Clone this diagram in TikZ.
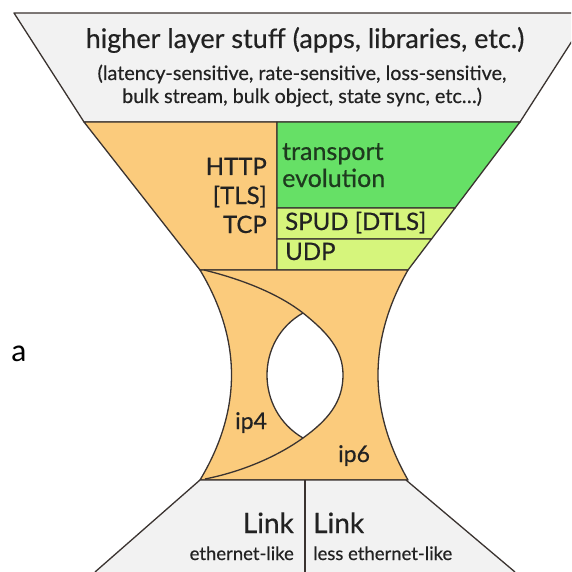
\documentclass[tikz,border=0pt]{standalone}
\usepackage{fontspec}
\setmainfont{Lato}[FakeBold=0.5]
\newfontfamily\afont{Carlito}
\definecolor{bandgray}{HTML}{F2F2F2}
\definecolor{orng}{HTML}{FBCB7C}
\definecolor{grn}{HTML}{66E066}
\definecolor{lgrn}{HTML}{D6F57C}
\definecolor{edge}{HTML}{3A3330}
\definecolor{txt}{HTML}{222222}
\definecolor{gtxt}{HTML}{1E3A1E}
\tikzset{
  outl/.style={draw=edge, line width=1.3pt, line join=round},
  lbl/.style={inner sep=0pt, text=txt},
}
\begin{document}
\begin{tikzpicture}[x=1pt,y=-1pt]
\useasboundingbox (0,0) rectangle (571,572);
\clip (0,0) rectangle (571,572);
\fill[white] (0,0) rectangle (571,572);
% top band
\filldraw[outl, fill=bandgray] (14,13) -- (590,13) -- (520,122) -- (84,122) -- cycle;
% middle band
\filldraw[outl, fill=orng] (84,122) -- (277,122) -- (277,270) -- (200,270) -- cycle;
\filldraw[outl, fill=grn] (277,122) -- (520,122) -- (455,208) -- (277,208) -- cycle;
\filldraw[outl, fill=lgrn] (277,208) -- (455,208) -- (431.5,239) -- (277,239) -- cycle;
\filldraw[outl, fill=lgrn] (277,239) -- (431.5,239) -- (408,270) -- (277,270) -- cycle;
% hourglass waist
\filldraw[outl, fill=orng] (200,270) -- (408,270) .. controls (368,340) and (368,410) .. (408,480)
  -- (200,480) .. controls (242,410) and (242,340) .. (200,270) -- cycle;
% lens
\fill[white] (303,313) .. controls (328,333) and (343,350) .. (343,375)
  .. controls (343,402) and (328,420) .. (303,438)
  .. controls (255,410) and (255,340) .. (303,313) -- cycle;
\draw[outl] (204,270) .. controls (245,280) and (280,295) .. (303,313)
  .. controls (328,333) and (343,350) .. (343,375)
  .. controls (343,402) and (328,420) .. (303,438)
  .. controls (275,458) and (240,472) .. (205,479);
\draw[outl] (303,313) .. controls (255,340) and (255,410) .. (303,438);
% bottom band
\fill[bandgray] (200,480) -- (406,480) -- (515,572) -- (95,572) -- cycle;
\draw[outl] (95,572) -- (200,480) -- (406,480) -- (515,572);
\draw[outl] (305,480) -- (305,572);
% texts
\node[lbl, anchor=base, font=\fontsize{27}{27}\selectfont] (title) at (305,48) {higher layer stuff (apps, libraries, etc.)};
\node[lbl, anchor=base, font=\fontsize{19.8}{20}\selectfont] (sub1) at (302,80) {(latency-sensitive, rate-sensitive, loss-sensitive,};
\node[lbl, anchor=base, font=\fontsize{19.8}{20}\selectfont] (sub2) at (302,103) {bulk stream, bulk object, state sync, etc\ldots)};
\node[lbl, anchor=base east, font=\fontsize{24}{24}\selectfont] (http) at (267,175) {HTTP};
\node[lbl, anchor=base east, font=\fontsize{24}{24}\selectfont] (tls) at (267,204) {[TLS]};
\node[lbl, anchor=base east, font=\fontsize{24}{24}\selectfont] (tcp) at (267,233) {TCP};
\node[lbl, text=gtxt, anchor=base west, font=\fontsize{25}{25}\selectfont] (tr) at (282,160) {transport};
\node[lbl, text=gtxt, anchor=base west, font=\fontsize{25}{25}\selectfont] (ev) at (282,187) {evolution};
\node[lbl, anchor=base west, font=\fontsize{24}{24}\selectfont] (spud) at (285,230) {SPUD [DTLS]};
\node[lbl, anchor=base west, font=\fontsize{24}{24}\selectfont] (udp) at (285,260) {UDP};
\node[lbl, anchor=base west, font=\fontsize{23}{23}\selectfont] (ip4) at (235,429) {ip4};
\node[lbl, anchor=base west, font=\fontsize{23}{23}\selectfont] (ip6) at (338,462) {ip6};
\node[lbl, anchor=base east, font=\fontsize{28}{28}\selectfont] (link1) at (294,533) {Link};
\node[lbl, anchor=base east, font=\fontsize{18.5}{18.5}\selectfont] (eth1) at (294,560) {ethernet-like};
\node[lbl, anchor=base west, font=\fontsize{28}{28}\selectfont] (link2) at (313,533) {Link};
\node[lbl, anchor=base west, font=\fontsize{18.5}{18.5}\selectfont] (eth2) at (313,560) {less ethernet-like};
\node[lbl, text=black, anchor=base west, font=\afont\fontsize{32}{32}\selectfont] (a) at (11,361) {a};
\end{tikzpicture}
\end{document}
